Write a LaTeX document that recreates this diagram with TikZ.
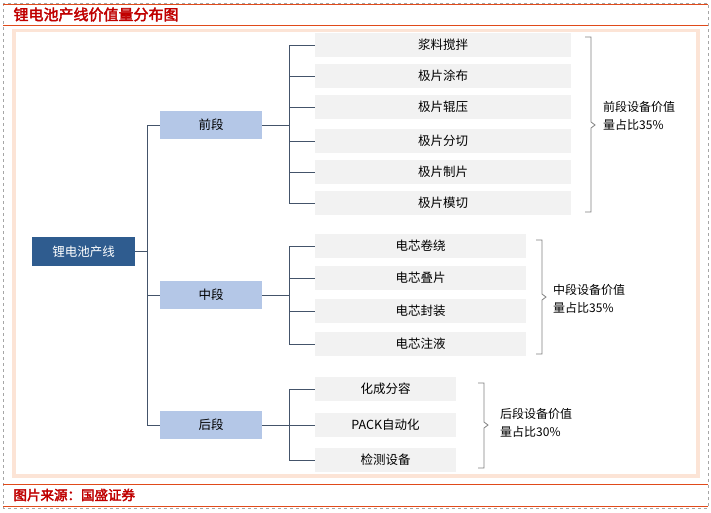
\documentclass[tikz,border=0pt]{standalone}
\usepackage{fontspec}
\setmainfont{Noto Sans CJK SC}[AutoFakeBold=2.5]
\usepackage{tikz}
\usetikzlibrary{calc}
\definecolor{titred}{HTML}{C00000}
\definecolor{linered}{HTML}{E04A1A}
\definecolor{peach}{HTML}{FCE4D6}
\definecolor{rootblue}{HTML}{2F5C8F}
\definecolor{midblue}{HTML}{B4C7E7}
\definecolor{leafgray}{HTML}{F2F2F2}
\definecolor{wire}{HTML}{44546A}
\newcommand{\boxfont}{\fontsize{12.5}{15}\selectfont}
\tikzset{
  rootbox/.style={fill=rootblue,text=white,minimum width=103pt,minimum height=29pt,inner sep=0pt,font=\boxfont},
  midbox/.style={fill=midblue,minimum width=102pt,minimum height=28pt,inner sep=0pt,font=\boxfont},
  leafbox/.style={fill=leafgray,minimum height=24pt,inner sep=0pt,font=\boxfont},
  wirestyle/.style={draw=wire,line width=0.8pt},
  bracestyle/.style={draw=gray,line width=0.8pt},
  note/.style={anchor=west,align=left,font=\fontsize{12}{18}\selectfont,inner sep=0pt}
}
\begin{document}
\begin{tikzpicture}[x=1pt,y=-1pt]
\useasboundingbox (0,0) rectangle (711,512);
% frame
\fill[white] (0,0) rectangle (711,512);
\draw[gray!70,dashed] (3,3) rectangle (708,508);
\draw[linered,line width=1pt] (3,4) -- (708,4);
\draw[linered,line width=1pt] (3,25) -- (708,25);
\node[anchor=west,text=titred,font=\fontsize{15}{18}\selectfont\bfseries] (title) at (10,14.5) {锂电池产线价值量分布图};
\fill[peach] (12,29) rectangle (700,478);
\fill[white] (16,32) rectangle (696,474);
\draw[linered,line width=1pt] (3,484) -- (708,484);
\draw[linered,line width=1pt] (3,506) -- (708,506);
\node[anchor=west,text=titred,font=\fontsize{13.5}{16}\selectfont\bfseries] (src) at (10,495) {图片来源：国盛证券};
% nodes
\node[rootbox] (root) at (83.5,251.5) {锂电池产线};
\node[midbox] (front) at (211,125) {前段};
\node[midbox] (middle) at (211,295) {中段};
\node[midbox] (back) at (211,425) {后段};
\foreach \name/\txt/\y in {f1/浆料搅拌/45,f2/极片涂布/76,f3/极片辊压/107,f4/极片分切/141,f5/极片制片/172,f6/极片模切/203}
  \node[leafbox,minimum width=256pt] (\name) at (443,\y) {\txt};
\foreach \name/\txt/\y in {m1/电芯卷绕/246,m2/电芯叠片/278,m3/电芯封装/311,m4/电芯注液/344}
  \node[leafbox,minimum width=211pt] (\name) at (420.5,\y) {\txt};
\foreach \name/\txt/\y in {b1/化成分容/389,b2/PACK自动化/425,b3/检测设备/460}
  \node[leafbox,minimum width=141pt] (\name) at (385.5,\y) {\txt};
% connectors
\coordinate (trunk) at (147,0);
\draw[wirestyle] (root.east) -- (root.east -| trunk);
\draw[wirestyle] (front.west -| trunk) -- (back.west -| trunk);
\foreach \m in {front,middle,back}
  \draw[wirestyle] (\m.west -| trunk) -- (\m.west);
\coordinate (fork) at (289,0);
\draw[wirestyle] (front.east) -- (front.east -| fork);
\draw[wirestyle] (f1.west -| fork) -- (f6.west -| fork);
\foreach \l in {f1,f2,f3,f4,f5,f6}
  \draw[wirestyle] (\l.west -| fork) -- (\l.west);
\draw[wirestyle] (middle.east) -- (middle.east -| fork);
\draw[wirestyle] (m1.west -| fork) -- (m4.west -| fork);
\foreach \l in {m1,m2,m3,m4}
  \draw[wirestyle] (\l.west -| fork) -- (\l.west);
\draw[wirestyle] (back.east) -- (back.east -| fork);
\draw[wirestyle] (b1.west -| fork) -- (b3.west -| fork);
\foreach \l in {b1,b2,b3}
  \draw[wirestyle] (\l.west -| fork) -- (\l.west);
% braces
\draw[bracestyle] (585,37) -- (591,37) -- (591,122) -- (595,125) -- (591,128) -- (591,212) -- (585,212);
\node[note] (fnote) at (603,116) {前段设备价值\\量占比35\%};
\draw[bracestyle] (536,240) -- (542,240) -- (542,294) -- (546,297) -- (542,300) -- (542,354) -- (536,354);
\node[note] (mnote) at (553,299) {中段设备价值\\量占比35\%};
\draw[bracestyle] (478,383) -- (484,383) -- (484,422) -- (488,425) -- (484,428) -- (484,468) -- (478,468);
\node[note] (bnote) at (500,423) {后段设备价值\\量占比30\%};
\end{tikzpicture}
\end{document}
